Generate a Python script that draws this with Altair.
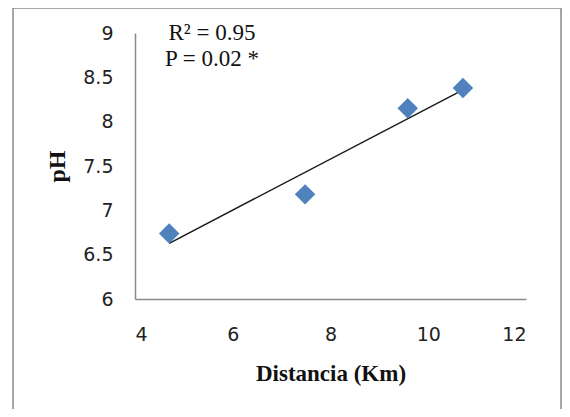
import altair as alt
import pandas as pd

# Data
distancia = [4.70, 7.48, 9.58, 10.71]
ph = [6.74, 7.18, 8.15, 8.38]
x_ticks = [4, 6, 8, 10, 12]
y_ticks = [6, 6.5, 7, 7.5, 8, 8.5, 9]
annotation = ["R² = 0.95", "P = 0.02 *"]

df = pd.DataFrame({"Distancia": distancia, "pH": ph})
one = pd.DataFrame({"k": [0]})

W, H = 391, 266
TICK_FONT = "DejaVu Sans"
SERIF = "Liberation Serif"
GRAY = "#8a8a8a"

x_scale = alt.Scale(domain=[4, 12], nice=False, zero=False)
y_scale = alt.Scale(domain=[6, 9], nice=False, zero=False)

x_axis = alt.Axis(
    values=x_ticks, title="Distancia (Km)", grid=False, ticks=False,
    domainColor=GRAY, domainWidth=1.5, labelFont=TICK_FONT, labelFontSize=19,
    labelColor="#222222", labelPadding=26, titleFont=SERIF, titleFontSize=23,
    titleFontWeight="bold", titleColor="#111111", titlePadding=18,
)
y_axis = alt.Axis(
    values=y_ticks, format="~g", title="pH", grid=False, ticks=False,
    domainColor=GRAY, domainWidth=1.5, labelFont=TICK_FONT, labelFontSize=19,
    labelColor="#222222", labelPadding=22, titleFont=SERIF, titleFontSize=24,
    titleFontWeight="bold", titleColor="#111111", titlePadding=13,
)

border = alt.Chart(one).mark_rect(
    fillOpacity=0, stroke=GRAY, strokeWidth=1.5
).encode(
    x=alt.value(-122), x2=alt.value(426), y=alt.value(-25), y2=alt.value(H + 200)
)

points = alt.Chart(df).mark_point(
    shape="diamond", filled=True, size=420, color="#4F81BD", opacity=1
).encode(
    x=alt.X("Distancia:Q", scale=x_scale, axis=x_axis),
    y=alt.Y("pH:Q", scale=y_scale, axis=y_axis),
)

trend = alt.Chart(df).transform_regression(
    "Distancia", "pH", method="linear"
).mark_line(color="#1a1a1a", strokeWidth=1.5).encode(
    x=alt.X("Distancia:Q", scale=x_scale),
    y=alt.Y("pH:Q", scale=y_scale),
)

text = alt.Chart(one).mark_text(
    text=annotation, font=SERIF, fontSize=23, align="center",
    baseline="alphabetic", lineHeight=26, color="#111111"
).encode(x=alt.value(77), y=alt.value(7))

chart = alt.layer(border, trend, points, text).properties(
    width=W, height=H,
    autosize=alt.AutoSizeParams(type="none"),
    padding={"left": 127, "top": 25, "right": 36, "bottom": 110},
).configure_view(stroke=None)

chart.save("out.html", embed_options={"renderer": "svg", "actions": False})
